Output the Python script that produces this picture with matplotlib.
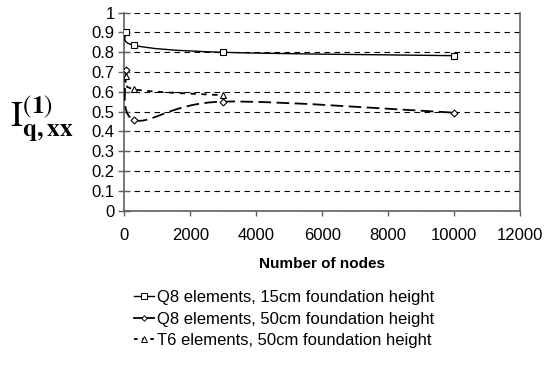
import matplotlib
matplotlib.use("Agg")
import matplotlib.pyplot as plt
from matplotlib.path import Path
from matplotlib.patches import PathPatch
from matplotlib.lines import Line2D

plt.rcParams['font.family'] = ['Liberation Sans', 'DejaVu Sans']
plt.rcParams['mathtext.fontset'] = 'stix'

# data
q8_15_x = [50, 300, 3000, 10000]
q8_15_y = [0.90, 0.835, 0.80, 0.783]
q8_50_x = [50, 300, 3000, 10000]
q8_50_y = [0.71, 0.458, 0.551, 0.495]
t6_50_x = [50, 300, 3000]
t6_50_y = [0.68, 0.613, 0.583]

labels = ["Q8 elements, 15cm foundation height",
          "Q8 elements, 50cm foundation height",
          "T6 elements, 50cm foundation height"]


def smooth_path(xs, ys):
    # Excel-style smoothed line: cubic Bezier through the points
    pts = list(zip(xs, ys))
    n = len(pts)
    verts = [pts[0]]
    codes = [Path.MOVETO]
    for i in range(n - 1):
        p0 = pts[max(i - 1, 0)]
        p1 = pts[i]
        p2 = pts[i + 1]
        p3 = pts[min(i + 2, n - 1)]
        c1 = (p1[0] + (p2[0] - p0[0]) / 6, p1[1] + (p2[1] - p0[1]) / 6)
        c2 = (p2[0] - (p3[0] - p1[0]) / 6, p2[1] - (p3[1] - p1[1]) / 6)
        verts += [c1, c2, p2]
        codes += [Path.CURVE4] * 3
    return Path(verts, codes)


fig = plt.figure(figsize=(5.45, 3.67), dpi=100)
ax = fig.add_axes([0.2284, 0.4259, 0.7256, 0.5395])

series = [
    (q8_15_x, q8_15_y, '-', 's', 1.0, '-'),
    (q8_50_x, q8_50_y, (0, (7, 3)), 'D', 1.3, '-'),
    (t6_50_x, t6_50_y, (0, (3, 3)), '^', 1.3, (0, (2, 2.5))),
]
handles = []
for (xs, ys, ls, mk, lw, hls), lab in zip(series, labels):
    patch = PathPatch(smooth_path(xs, ys), facecolor='none', edgecolor='black',
                      linewidth=lw, linestyle=ls, zorder=3)
    ax.add_patch(patch)
    ms = 5 if mk != 'D' else 3.5
    ax.plot(xs, ys, linestyle='none', marker=mk, markersize=ms,
            markerfacecolor='white', markeredgecolor='black',
            markeredgewidth=0.8, zorder=4)
    handles.append(Line2D([], [], color='black', linestyle=hls, linewidth=lw,
                          marker=mk, markersize=ms * 0.8, markerfacecolor='white',
                          markeredgecolor='black', markeredgewidth=0.7))

ax.set_xlim(0, 12000)
ax.set_ylim(0, 1)
ax.set_xticks(range(0, 12001, 2000))
ax.set_yticks([i / 10 for i in range(11)])
ax.set_yticklabels(['0'] + [f'{i/10:.1f}' for i in range(1, 10)] + ['1'])
ax.yaxis.grid(True, color='black', linestyle=(0, (5, 4)), linewidth=0.8)
ax.set_axisbelow(True)
ax.tick_params(axis='x', labelsize=12, length=3.6, width=1, color='#606060', pad=9)
ax.tick_params(axis='y', labelsize=12, length=8, width=1, color='#606060',
               direction='inout', pad=3)
for s in ['left', 'bottom', 'right']:
    ax.spines[s].set_color('#606060')
    ax.spines[s].set_linewidth(1.2)
ax.spines['top'].set_visible(False)

ax.set_xlabel('Number of nodes', fontsize=11, fontweight='bold', labelpad=10)

fig.text(0.018, 0.676, r'$\mathrm{I}_{\mathbf{q,xx}}^{(\mathbf{1})}$',
         fontsize=26, va='center', ha='left')

fig.legend(handles, labels, loc='upper left', bbox_to_anchor=(0.231, 0.232),
           frameon=False, fontsize=12, handlelength=1.2, handletextpad=0.15,
           labelspacing=0.39, borderpad=0)

fig.savefig('out.png', dpi=100)
